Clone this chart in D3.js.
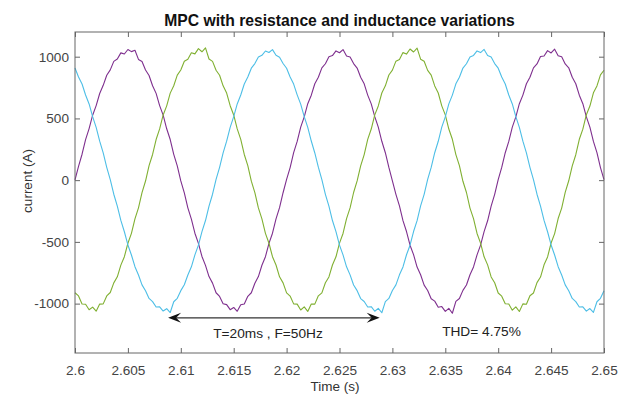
<!DOCTYPE html>
<html><head><meta charset="utf-8">
<script src="https://cdn.jsdelivr.net/npm/d3@7"></script>
<style>body{margin:0;background:#fff}svg{display:block}text{font-family:"Liberation Sans",Arial,sans-serif}</style>
</head><body><svg id="c" width="619" height="396"></svg>
<script>
const title = "MPC with resistance and inductance variations";
const xTicks = [2.6,2.605,2.61,2.615,2.62,2.625,2.63,2.635,2.64,2.645,2.65];
const yTicks = [-1000,-500,0,500,1000];
const t0 = 2.6, nSamples = 151, dt = 1/3000;
const phaseA = [3,112,210,328,418,526,604,702,768,850,893,962,981,1031,1022,1058,1041,1052,978,961,892,848,765,703,604,527,416,329,209,116,
-6,-103,-224,-315,-430,-512,-618,-690,-781,-834,-912,-942,-1001,-1008,-1049,-1031,-1062,-1009,-1003,-941,-912,-835,-781,-689,-620,-512,-430,-314,-223,-102,
6,102,223,314,430,513,619,688,781,833,909,943,1000,1009,1047,1032,1058,1006,998,944,908,834,780,689,618,514,429,315,222,103,
-5,-115,-209,-328,-416,-527,-603,-704,-766,-850,-894,-961,-980,-1030,-1024,-1063,-1038,-1078,-982,-959,-893,-849,-766,-703,-605,-526,-417,-329,-210,-115,
4,103,222,314,430,512,619,689,781,833,909,941,1001,1006,1049,1030,1061,1008,999,941,910,833,781,688,619,513,430,314,223,102,5];
const phaseB = [-912,-938,-1003,-1005,-1050,-1028,-1061,-1004,-1002,-938,-910,-832,-783,-688,-620,-511,-431,-313,-224,-101,
-7,117,208,329,415,528,602,705,765,851,892,963,979,1032,1023,1065,1040,1071,981,962,890,850,764,705,603,528,415,330,208,117,
-8,-101,-225,-313,-431,-511,-620,-687,-783,-832,-913,-939,-1002,-1004,-1052,-1027,-1063,-1003,-1004,-937,-913,-831,-784,-687,-621,-510,-432,-312,-225,-100,
-6,116,207,330,414,529,601,706,764,852,891,964,978,1033,1021,1062,1038,1070,980,963,889,851,763,706,602,529,414,331,207,118,
-9,-100,-226,-312,-432,-510,-621,-686,-784,-831,-914,-940,-1001,-1003,-1053,-1026,-1064,-1002,-1005,-936,-914,-830,-785,-686,-622,-509,-433,-311,-226,-99,
-5,115,206,331,413,530,600,707,763,853,890];
const phaseC = [908,835,779,690,617,514,428,316,221,104,
5,-114,-211,-326,-418,-525,-606,-701,-768,-848,-896,-958,-984,-1027,-1026,-1060,-1041,-1072,-985,-957,-895,-847,-768,-702,-605,-526,-417,-327,-210,-114,
6,104,221,316,428,514,617,690,779,835,907,944,997,1011,1046,1034,1057,1011,996,945,906,836,778,691,616,515,427,317,220,105,
4,-115,-210,-327,-417,-526,-605,-702,-767,-849,-895,-959,-983,-1028,-1025,-1062,-1039,-1074,-984,-958,-894,-848,-767,-703,-604,-527,-416,-328,-209,-115,
7,103,222,315,429,513,618,689,780,834,908,943,998,1010,1047,1033,1059,1010,997,944,907,835,779,690,617,514,428,316,221,104,
5,-114,-211,-326,-418,-525,-606,-701,-768,-848,-896,-958,-984,-1027,-1026,-1061,-1040,-1071,-985,-957,-895];
const seriesNames = ["phaseA","phaseB","phaseC"];
const seriesColors = ["#7E2F8E","#80B032","#4DBEE6"];
const periodArrow = [2.6088, 2.6288];
const periodArrowY = -1115;
const periodLabelPos = [2.61824, -1282];
const thdLabelPos = [2.6347, -1265];
const periodLabel = "T=20ms , F=50Hz";
const thdLabel = "THD= 4.75%";

const times = d3.range(nSamples).map(i => t0 + i*dt);
const seriesData = [phaseA, phaseB, phaseC];

const svg = d3.select("#c");
const L = 75, R = 604, T = 32, B = 353;
const x = d3.scaleLinear().domain([2.6, 2.65]).range([L, R]);
const y = d3.scaleLinear().domain([-1400, 1200]).range([B, T]);

const axisColor = "#666";
const line = d3.line().x((d,i)=>x(times[i])).y(d=>y(d));
const g = svg.append("g");
seriesData.forEach((s,k)=>{
  g.append("path").datum(s).attr("d", line).attr("fill","none")
   .attr("stroke", seriesColors[k]).attr("stroke-width",1.1).attr("stroke-linejoin","round");
});

function styleAxis(sel){
  sel.select(".domain").remove();
  sel.selectAll(".tick line").attr("stroke", axisColor);
  sel.selectAll(".tick text").attr("fill","#444").style("font-size","13.6px").style("font-family",'"Liberation Sans",Arial,sans-serif');
}
const xa = svg.append("g").attr("transform",`translate(0,${B})`)
  .call(d3.axisBottom(x).tickValues(xTicks).tickFormat(d=>String(+d.toFixed(3))).tickSizeInner(-5).tickPadding(12));
styleAxis(xa);
const xt = svg.append("g").attr("transform",`translate(0,${T})`)
  .call(d3.axisTop(x).tickValues(xTicks).tickFormat("").tickSizeInner(-5));
styleAxis(xt);
const ya = svg.append("g").attr("transform",`translate(${L},0)`)
  .call(d3.axisLeft(y).tickValues(yTicks).tickFormat(d=>String(d)).tickSizeInner(-5).tickPadding(6));
styleAxis(ya);
const yr = svg.append("g").attr("transform",`translate(${R},0)`)
  .call(d3.axisRight(y).tickValues(yTicks).tickFormat("").tickSizeInner(-5));
styleAxis(yr);

svg.append("rect").attr("x",L).attr("y",T).attr("width",R-L).attr("height",B-T)
  .attr("fill","none").attr("stroke",axisColor).attr("stroke-width",1);

svg.append("text").attr("x",339.5).attr("y",25.5).attr("text-anchor","middle")
  .style("font-size","15.7px").style("font-weight","bold").attr("fill","#111").text(title);
svg.append("text").attr("x",335).attr("y",391).attr("text-anchor","middle")
  .style("font-size","13.5px").attr("fill","#333").text("Time (s)");
svg.append("text").attr("transform",`translate(32,181) rotate(-90)`).attr("text-anchor","middle")
  .style("font-size","13.5px").attr("fill","#333").text("current (A)");

const ax1 = x(periodArrow[0]), ax2 = x(periodArrow[1]), ay = y(periodArrowY);
svg.append("line").attr("x1",ax1+6).attr("x2",ax2-6).attr("y1",ay).attr("y2",ay).attr("stroke","#333").attr("stroke-width",1.2);
svg.append("path").attr("d",`M${ax1},${ay} L${ax1+13},${ay-5} L${ax1+8},${ay} L${ax1+13},${ay+5} Z`).attr("fill","#111");
svg.append("path").attr("d",`M${ax2},${ay} L${ax2-13},${ay-5} L${ax2-8},${ay} L${ax2-13},${ay+5} Z`).attr("fill","#111");
svg.append("text").attr("x",x(periodLabelPos[0])).attr("y",y(periodLabelPos[1])).attr("text-anchor","middle")
  .style("font-size","13.7px").attr("fill","#222").text(periodLabel);
svg.append("text").attr("x",x(thdLabelPos[0])).attr("y",y(thdLabelPos[1]))
  .style("font-size","13.7px").attr("fill","#222").text(thdLabel);
</script></body></html>
